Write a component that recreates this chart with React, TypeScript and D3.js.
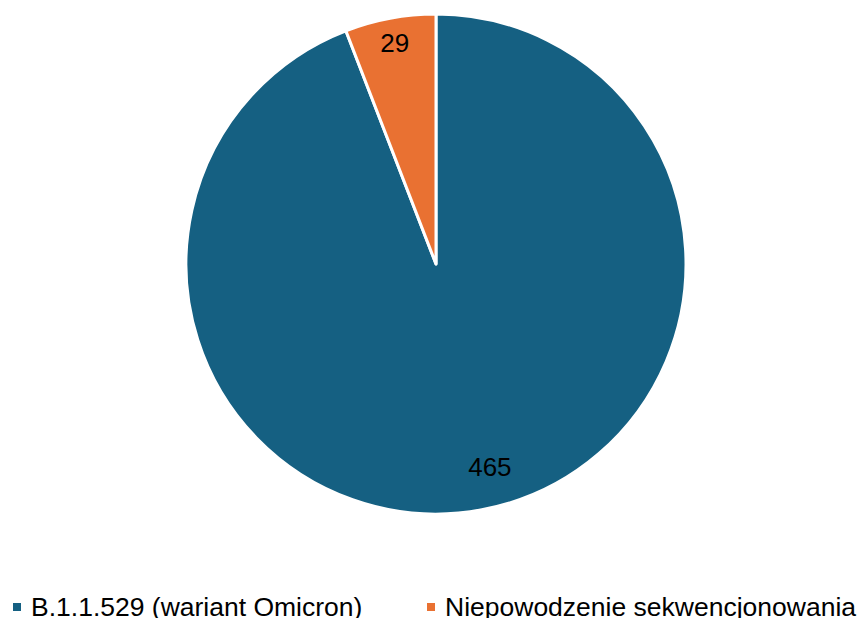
import React, { useEffect, useRef } from 'react';
import * as d3 from 'd3';

const categories = ['B.1.1.529 (wariant Omicron)', 'Niepowodzenie sekwencjonowania'];
const values = [465, 29];
const colors = ['#156082', '#E97132'];

const App: React.FC = () => {
  const svgRef = useRef<SVGSVGElement>(null);

  useEffect(() => {
    document.body.style.margin = '0';
    if (!svgRef.current) return;

    const svg = d3.select(svgRef.current);
    svg.selectAll('*').remove();

    const cx = 436;
    const cy = 264;
    const radius = 250;
    const font = 'Arial, "Liberation Sans", sans-serif';

    const data = categories.map((c, i) => ({ label: c, value: values[i], color: colors[i] }));

    const pie = d3.pie<typeof data[0]>().value(d => d.value).sort(null);
    const arcs = pie(data);
    const arc = d3.arc<d3.PieArcDatum<typeof data[0]>>().innerRadius(0).outerRadius(radius);

    const g = svg.append('g').attr('transform', `translate(${cx},${cy})`);

    // Slices
    g.selectAll('path')
      .data(arcs)
      .enter()
      .append('path')
      .attr('d', arc)
      .attr('fill', d => d.data.color)
      .attr('stroke', '#fff')
      .attr('stroke-width', 3)
      .attr('stroke-linejoin', 'round');

    // Data labels (Excel-ish placement near the outer edge)
    const labelFactor = [0.84, 0.9];
    const labelShift = [-0.075, 0]; // radians
    g.selectAll('text.value')
      .data(arcs)
      .enter()
      .append('text')
      .attr('class', 'value')
      .attr('transform', (d, i) => {
        const r = radius * labelFactor[i];
        const a = (d.startAngle + d.endAngle) / 2 + labelShift[i];
        return `translate(${r * Math.sin(a)},${-r * Math.cos(a)})`;
      })
      .attr('text-anchor', 'middle')
      .attr('dy', '0.35em')
      .attr('font-family', font)
      .attr('font-size', 26)
      .attr('fill', '#000')
      .text(d => String(d.data.value));

    // Legend
    const legendX = [13, 427];
    const legend = svg.selectAll('g.legend')
      .data(data)
      .enter()
      .append('g')
      .attr('class', 'legend')
      .attr('transform', (_, i) => `translate(${legendX[i]},616)`);

    legend.append('rect')
      .attr('x', 0)
      .attr('y', -13)
      .attr('width', 8)
      .attr('height', 8)
      .attr('fill', d => d.color);

    legend.append('text')
      .attr('x', 18)
      .attr('y', 0)
      .attr('font-family', font)
      .attr('font-size', 26.5)
      .attr('fill', '#000')
      .text(d => d.label);
  }, []);

  return (
    <svg
      ref={svgRef}
      width={859}
      height={618}
      viewBox="0 0 859 618"
      style={{ display: 'block', background: '#fff' }}
    />
  );
};

export default App;
